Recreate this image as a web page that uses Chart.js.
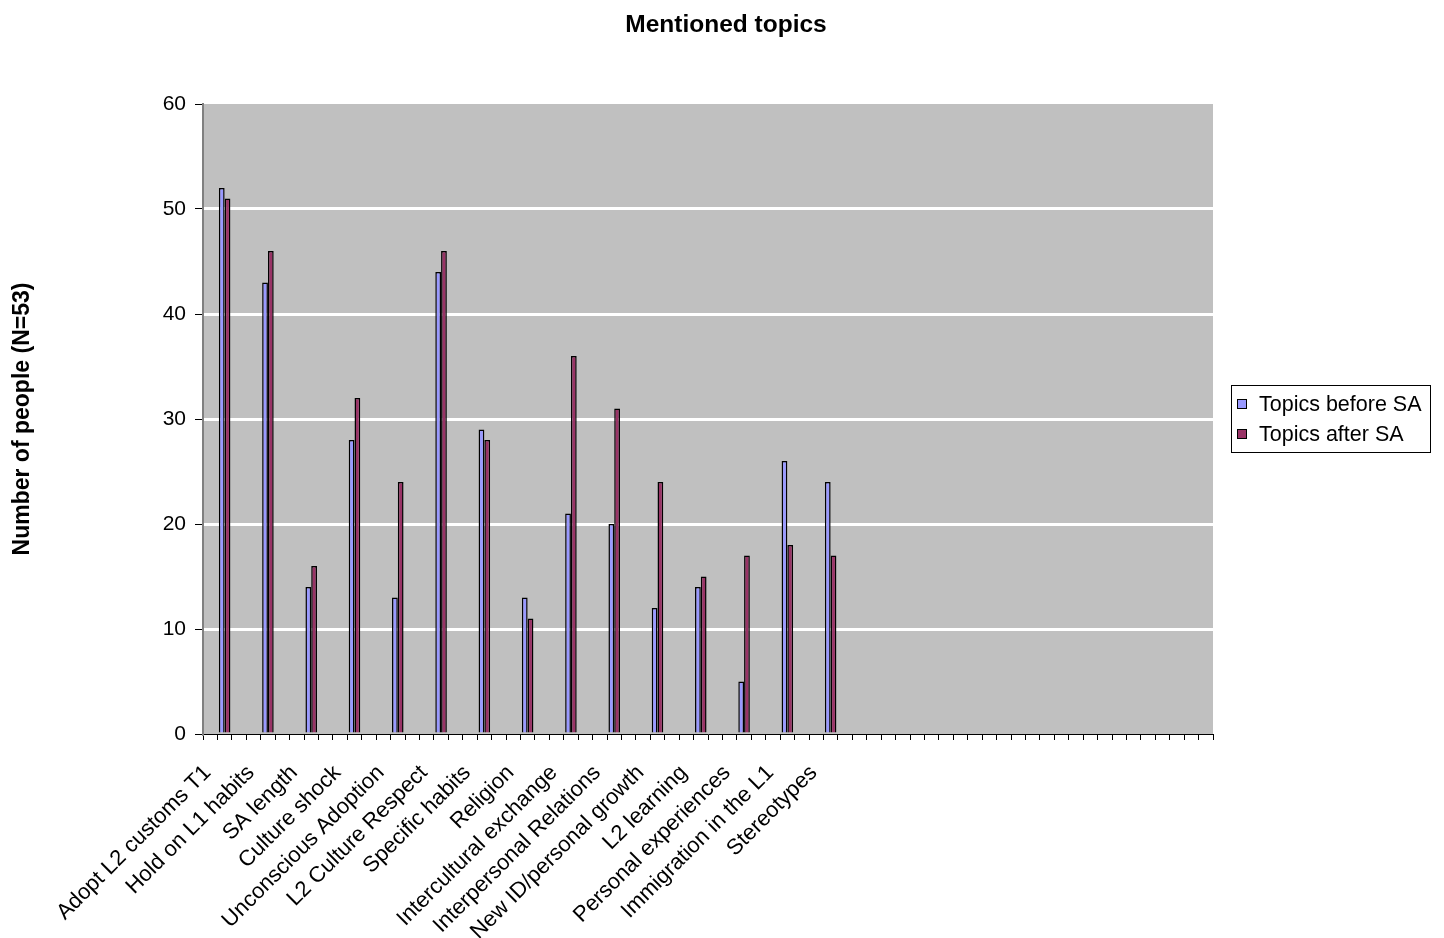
<!DOCTYPE html>
<html>
<head>
<meta charset="utf-8">
<script src="https://cdn.jsdelivr.net/npm/chart.js@4.4.1/dist/chart.umd.min.js"></script>
<style>
html,body{margin:0;padding:0;background:#fff;}
#wrap{width:1444px;height:938px;}
</style>
</head>
<body>
<div id="wrap"><canvas id="c" width="1444" height="938"></canvas></div>
<script>
// ---- data ----
const topics = ["Adopt L2 customs T1","Hold on L1 habits","SA length","Culture shock","Unconscious Adoption","L2 Culture Respect","Specific habits","Religion","Intercultural exchange","Interpersonal Relations","New ID/personal growth","L2 learning","Personal experiences","Immigration in the L1","Stereotypes"];
const topicsBefore = [52,43,14,28,13,44,29,13,21,20,12,14,5,26,24];
const topicsAfter  = [51,46,16,32,24,46,28,11,36,31,24,15,17,18,17];
const yTicks = [0,10,20,30,40,50,60];
const seriesNames = ["Topics before SA","Topics after SA"];
const chartTitle = "Mentioned topics";
const yTitle = "Number of people (N=53)";
// the original sheet has 70 category rows, topics every third row (others blank)
const totalRows = 70;
const firstRow = 1, rowStep = 3;

const categories = new Array(totalRows).fill('');
const before = new Array(totalRows).fill(null);
const after = new Array(totalRows).fill(null);
topics.forEach((t,i)=>{
  const r = firstRow + rowStep*i;
  categories[r] = t; before[r] = topicsBefore[i]; after[r] = topicsAfter[i];
});

const FONT = "'Liberation Sans', Arial, sans-serif";

const bgPlugin = {
  id:'plotBg',
  beforeDraw(chart){
    const {ctx, chartArea:a} = chart;
    ctx.save();
    ctx.fillStyle = '#C0C0C0';
    ctx.fillRect(a.left, a.top, a.right-a.left, a.bottom-a.top);
    ctx.restore();
  }
};
const decoPlugin = {
  id:'deco',
  afterDraw(chart){
    const ctx = chart.ctx;
    ctx.save();
    // title
    ctx.fillStyle = '#000';
    ctx.font = "bold 24.5px " + FONT;
    ctx.textAlign = 'center';
    ctx.textBaseline = 'middle';
    ctx.fillText(chartTitle, 726, 25);
    // legend
    ctx.strokeStyle = '#000'; ctx.lineWidth = 1;
    ctx.strokeRect(1231.5, 385.5, 199, 67);
    ctx.font = "21.5px " + FONT;
    ctx.textAlign = 'left';
    chart.data.datasets.forEach((ds,i)=>{
      const cy = 404 + i*30;
      ctx.fillStyle = ds.backgroundColor;
      ctx.fillRect(1237, cy-5, 10, 10);
      ctx.strokeStyle = '#000';
      ctx.strokeRect(1237.5, cy-4.5, 9, 9);
      ctx.fillStyle = '#000';
      ctx.fillText(ds.label, 1259, cy+1);
    });
    ctx.restore();
  }
};

new Chart(document.getElementById('c'), {
  type:'bar',
  data:{
    labels: categories,
    datasets:[
      {label:seriesNames[0], data:before, backgroundColor:'#9999FF', borderColor:'#000', borderWidth:1.5, borderSkipped:'start'},
      {label:seriesNames[1], data:after, backgroundColor:'#993366', borderColor:'#000', borderWidth:1.5, borderSkipped:'start'}
    ]
  },
  options:{
    responsive:false,
    animation:false,
    layout:{padding:{left:0,right:231,top:104,bottom:0}},
    datasets:{bar:{categoryPercentage:0.8, barPercentage:1.0}},
    plugins:{
      legend:{display:false},
      tooltip:{enabled:false},
      title:{display:false}
    },
    scales:{
      x:{
        offset:true,
        grid:{display:true, drawOnChartArea:false, drawTicks:true, tickLength:6, tickColor:'#000', tickWidth:1, offset:true},
        border:{display:true, color:'#000', width:1},
        ticks:{autoSkip:false, minRotation:45, maxRotation:45, color:'#000', font:{family:FONT, size:22}, padding:20, labelOffset:-17},
        afterFit(s){ s.height = 204; s.paddingLeft = 0; s.paddingRight = 0; }
      },
      y:{
        min:0, max:60,
        afterBuildTicks(s){ s.ticks = yTicks.map(v=>({value:v})); },
        grid:{
          color:(c)=> (c.tick && (c.tick.value===0 || c.tick.value===60)) ? 'rgba(0,0,0,0)' : '#FFFFFF',
          lineWidth:3, drawTicks:true, tickLength:8, tickColor:'#000', tickWidth:1
        },
        border:{display:true, color:'#808080', width:2},
        ticks:{color:'#000', font:{family:FONT, size:21}, padding:9},
        title:{display:true, text:yTitle, color:'#000',
          font:{family:FONT, size:23, weight:'bold'}, padding:{top:9, bottom:0}},
        afterFit(s){ s.width = 203; s.paddingTop = 0; s.paddingBottom = 0; }
      }
    }
  },
  plugins:[bgPlugin, decoPlugin]
});
</script>
</body>
</html>
